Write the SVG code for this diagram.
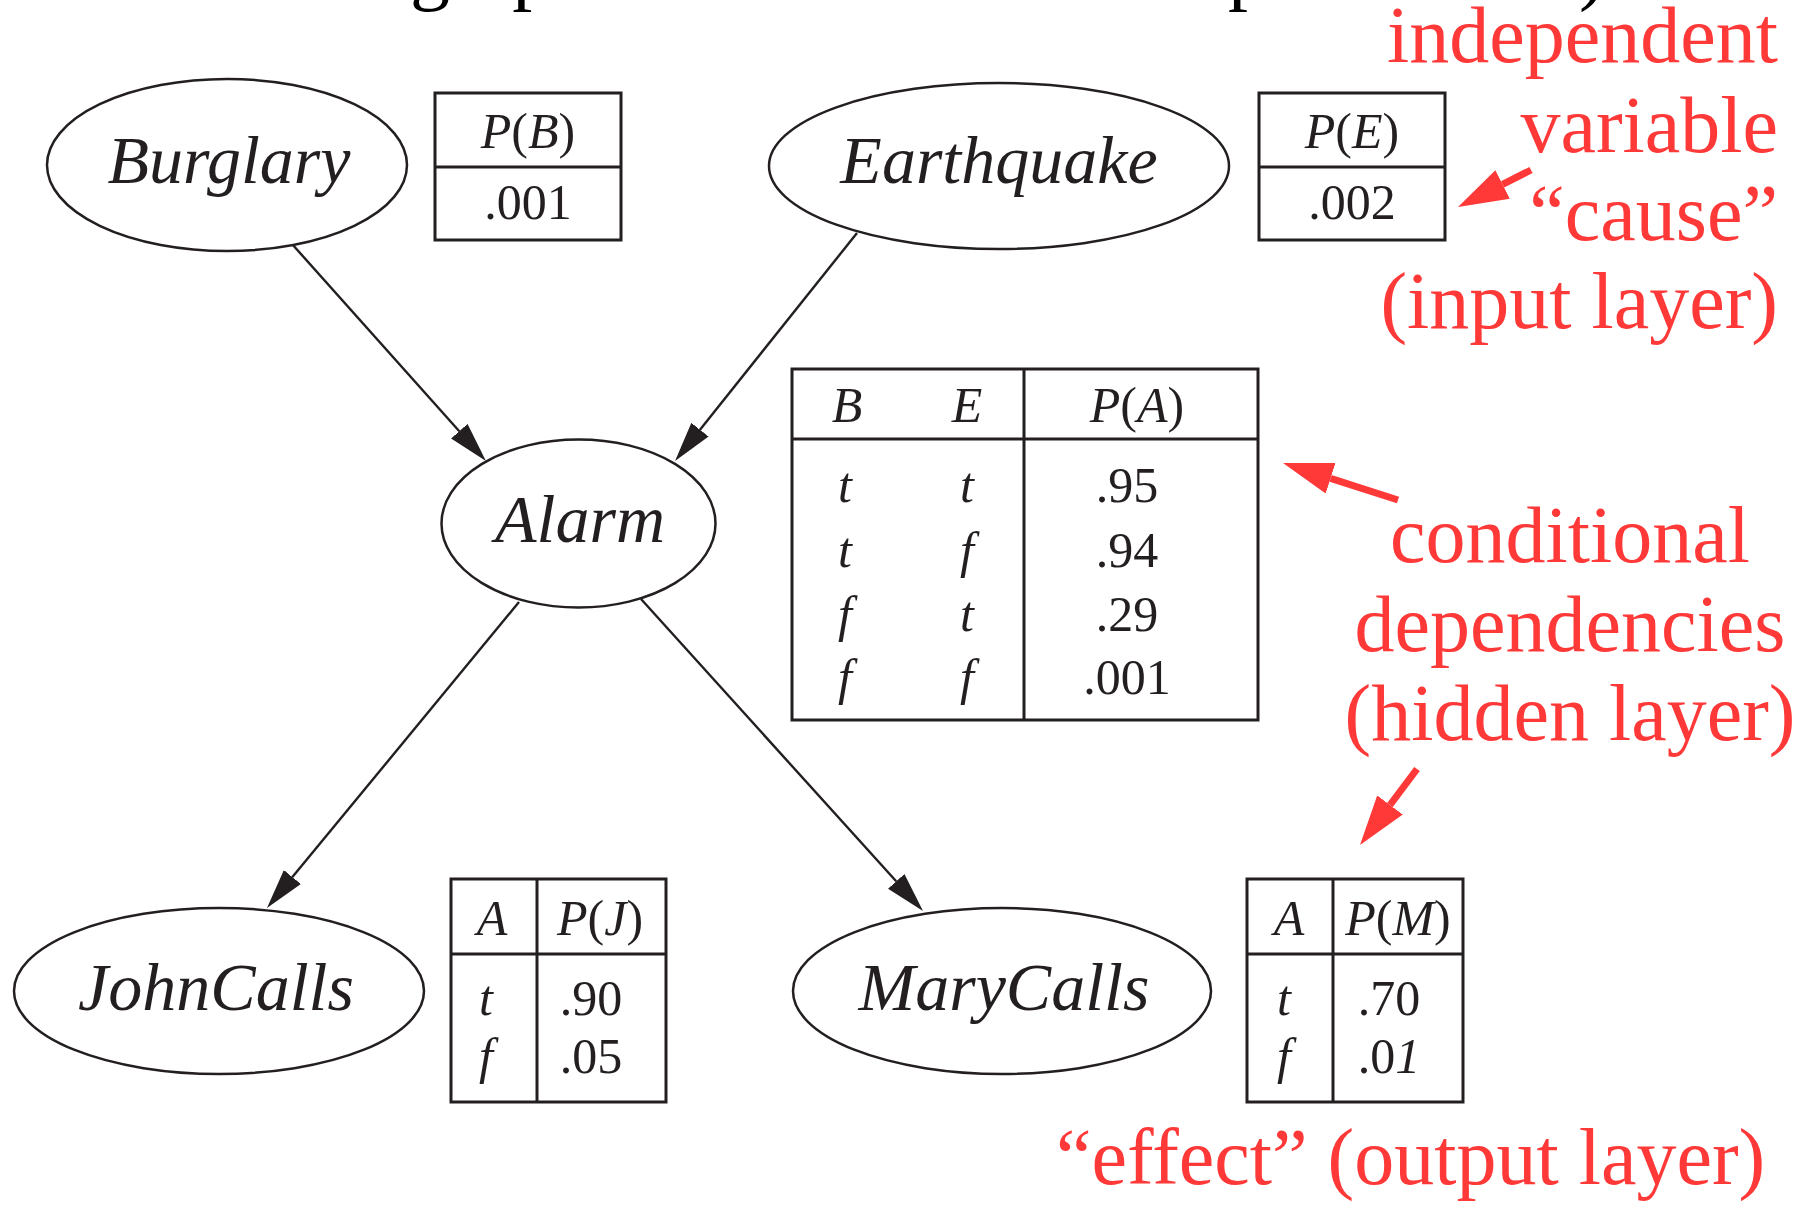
<svg xmlns="http://www.w3.org/2000/svg" width="1796" height="1207" viewBox="0 0 1796 1207">
  <defs>
    <style>
      .node ellipse { fill: #ffffff; stroke: #231f20; stroke-width: 2.5; }
      .lbl { font-family: "Liberation Serif", "Times New Roman", serif; font-style: italic; font-size: 68px; fill: #231f20; text-anchor: middle; }
      .cpt rect, .cpt line { fill: none; stroke: #231f20; stroke-width: 3; }
      .ct { font-family: "Liberation Serif", "Times New Roman", serif; font-size: 50px; fill: #231f20; text-anchor: middle; }
      .it { font-style: italic; }
      .edge { stroke: #231f20; stroke-width: 2.4; fill: none; marker-end: url(#head); }
      .note { font-family: "Liberation Serif", "Times New Roman", serif; font-size: 80px; fill: #ff3838; }
      .right { text-anchor: end; }
      .mid { text-anchor: middle; }
      .ann { stroke: #ff3838; stroke-width: 7; fill: none; marker-end: url(#redhead); }
      .title { font-family: "Liberation Serif", "Times New Roman", serif; font-size: 80px; fill: #000000; }
    </style>
    <!-- black arrowhead: 40 long, base sits on the line end -->
    <marker id="head" markerUnits="userSpaceOnUse" markerWidth="42" markerHeight="24" refX="0" refY="11" orient="auto">
      <path d="M0,0 L40,11 L0,22 Z" fill="#231f20"/>
    </marker>
    <!-- red annotation arrowhead -->
    <marker id="redhead" markerUnits="userSpaceOnUse" markerWidth="52" markerHeight="34" refX="0" refY="16" orient="auto">
      <path d="M0,0 L50,16 L0,32 Z" fill="#ff3838"/>
    </marker>
  </defs>

  <rect width="1796" height="1207" fill="#ffffff"/>

  <!-- heading line running off the top edge -->
  <text class="title" y="-5"><tspan x="410">graph with local node</tspan><tspan x="1228">parameters)</tspan></text>

  <!-- connectors -->
  <g id="edges">
    <path class="edge" d="M292,244 L459.3,431.2"/>
    <path class="edge" d="M857,233 L700,429.7"/>
    <path class="edge" d="M519,602 L292.4,877.1"/>
    <path class="edge" d="M641,599 L896.2,881.3"/>
  </g>

  <!-- nodes -->
  <g id="burglary" class="node">
    <ellipse cx="227" cy="165" rx="180" ry="86"/>
    <text class="lbl" x="229" y="183">Burglary</text>
  </g>
  <g id="earthquake" class="node">
    <ellipse cx="999" cy="166" rx="230" ry="83"/>
    <text class="lbl" x="999" y="183">Earthquake</text>
  </g>
  <g id="alarm" class="node">
    <ellipse cx="578.5" cy="523.5" rx="137" ry="84"/>
    <text class="lbl" x="580" y="542">Alarm</text>
  </g>
  <g id="johncalls" class="node">
    <ellipse cx="219" cy="991" rx="205" ry="83"/>
    <text class="lbl" x="216" y="1010">JohnCalls</text>
  </g>
  <g id="marycalls" class="node">
    <ellipse cx="1002" cy="991" rx="209" ry="83"/>
    <text class="lbl" x="1004" y="1010">MaryCalls</text>
  </g>

  <!-- conditional probability tables -->
  <g id="cpt-b" class="cpt">
    <rect x="435" y="93" width="186" height="147"/>
    <line x1="435" y1="167" x2="621" y2="167"/>
    <text class="ct" x="528" y="148"><tspan class="it">P</tspan>(<tspan class="it">B</tspan>)</text>
    <text class="ct" x="528" y="219">.001</text>
  </g>
  <g id="cpt-e" class="cpt">
    <rect x="1259" y="93" width="186" height="147"/>
    <line x1="1259" y1="167" x2="1445" y2="167"/>
    <text class="ct" x="1352" y="148"><tspan class="it">P</tspan>(<tspan class="it">E</tspan>)</text>
    <text class="ct" x="1352" y="219">.002</text>
  </g>
  <g id="cpt-a" class="cpt">
    <rect x="792" y="369" width="466" height="351"/>
    <line x1="792" y1="439" x2="1258" y2="439"/>
    <line x1="1024" y1="369" x2="1024" y2="720"/>
    <text class="ct it" x="847" y="422">B</text>
    <text class="ct it" x="967" y="422">E</text>
    <text class="ct" x="1137" y="422"><tspan class="it">P</tspan>(<tspan class="it">A</tspan>)</text>
    <text class="ct it" x="845" y="502">t</text>
    <text class="ct it" x="967" y="502">t</text>
    <text class="ct" x="1127" y="502">.95</text>
    <text class="ct it" x="845" y="567">t</text>
    <text class="ct it" x="967" y="567">f</text>
    <text class="ct" x="1127" y="567">.94</text>
    <text class="ct it" x="845" y="631">f</text>
    <text class="ct it" x="967" y="631">t</text>
    <text class="ct" x="1127" y="631">.29</text>
    <text class="ct it" x="845" y="694">f</text>
    <text class="ct it" x="967" y="694">f</text>
    <text class="ct" x="1127" y="694">.001</text>
  </g>
  <g id="cpt-j" class="cpt">
    <rect x="451" y="879" width="215" height="223"/>
    <line x1="451" y1="954" x2="666" y2="954"/>
    <line x1="537" y1="879" x2="537" y2="1102"/>
    <text class="ct it" x="492" y="935">A</text>
    <text class="ct" x="600" y="935"><tspan class="it">P</tspan>(<tspan class="it">J</tspan>)</text>
    <text class="ct it" x="486" y="1015">t</text>
    <text class="ct" x="591" y="1015">.90</text>
    <text class="ct it" x="486" y="1073">f</text>
    <text class="ct" x="591" y="1073">.05</text>
  </g>
  <g id="cpt-m" class="cpt">
    <rect x="1247" y="879" width="216" height="223"/>
    <line x1="1247" y1="954" x2="1463" y2="954"/>
    <line x1="1333" y1="879" x2="1333" y2="1102"/>
    <text class="ct it" x="1289" y="935">A</text>
    <text class="ct" x="1398" y="935"><tspan class="it">P</tspan>(<tspan class="it">M</tspan>)</text>
    <text class="ct it" x="1284" y="1015">t</text>
    <text class="ct" x="1389" y="1015">.70</text>
    <text class="ct it" x="1284" y="1073">f</text>
    <text class="ct" x="1389" y="1073">.0<tspan class="it">1</tspan></text>
  </g>

  <!-- red annotations -->
  <g id="annotations">
    <text class="note right" x="1778" y="62">independent</text>
    <text class="note right" x="1778" y="152">variable</text>
    <text class="note right" x="1778" y="240">“cause”</text>
    <text class="note right" x="1778" y="328">(input layer)</text>
    <text class="note mid" x="1570" y="562">conditional</text>
    <text class="note mid" x="1570" y="651">dependencies</text>
    <text class="note mid" x="1570" y="740">(hidden layer)</text>
    <text class="note" x="1056" y="1184">“effect” (output layer)</text>
    <path class="ann" d="M1531,170 L1502.6,184.4"/>
    <path class="ann" d="M1398,500 L1330.6,478.3"/>
    <path class="ann" d="M1417,769 L1390,805"/>
  </g>
</svg>
